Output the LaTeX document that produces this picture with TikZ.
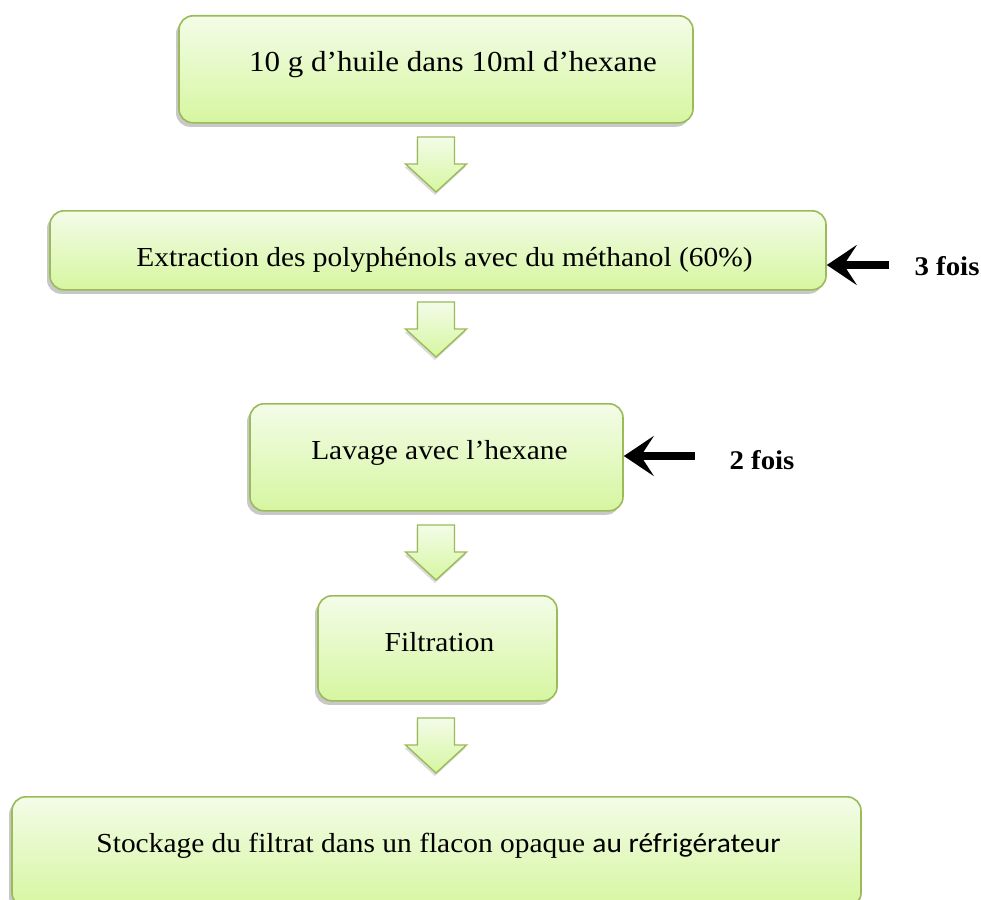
\documentclass[tikz,border=0pt]{standalone}
\usepackage{fontspec}
\setmainfont{Liberation Serif}[FakeStretch=1.07]
\newfontfamily\calibfont{Carlito}[FakeStretch=1.07]
\usetikzlibrary{calc,arrows.meta,positioning,shadows}

\definecolor{cBorder}{RGB}{155,187,89}
\definecolor{cTop}{RGB}{243,252,232}
\definecolor{cBottom}{RGB}{214,246,160}

\tikzset{
  stepbox/.style={draw=cBorder, line width=1.6pt, rounded corners=14pt,
    top color=cTop, bottom color=cBottom, anchor=north, inner sep=0pt,
    drop shadow={shadow xshift=-3pt, shadow yshift=-4pt, opacity=0.3, fill=black!70},
    font=\fontsize{27.5}{32}\selectfont, text height=56pt},
  hollowarr/.style={draw=cBorder, line width=1.4pt, line join=miter,
    top color=cTop, bottom color=cBottom,
    drop shadow={shadow xshift=-1pt, shadow yshift=-3pt, opacity=0.2, fill=black!70}},
  repeatarr/.style={-{Stealth[length=30pt,width=40pt,inset=13pt]}, line width=8pt},
  repeatlbl/.style={font=\bfseries\fontsize{27}{31}\selectfont, inner sep=0pt}
}

\begin{document}
\begin{tikzpicture}[x=1pt,y=-1pt]
\useasboundingbox[fill=white] (0,0) rectangle (981,899);
%boites des etapes
\node[stepbox, minimum width=514pt, minimum height=107pt, text depth=51pt,
  font=\fontsize{29}{33}\selectfont] (nHuile) at (436,15)
  {\hspace*{34pt}10 g d’huile dans 10ml d’hexane};
\node[stepbox, minimum width=776pt, minimum height=79pt, text depth=23pt] (nExtract) at (438,210)
  {\hspace*{13pt}Extraction des polyphénols avec du méthanol (60\%)};
\node[stepbox, minimum width=373pt, minimum height=107pt, text depth=51pt] (nLavage) at (436.5,403)
  {\hspace*{6pt}Lavage avec l’hexane};
\node[stepbox, minimum width=239pt, minimum height=105pt, text depth=49pt] (nFiltr) at (437.5,595)
  {\hspace*{4pt}Filtration};
\node[stepbox, minimum width=849pt, minimum height=110pt, text depth=54pt] (nStock) at (436.5,796)
  {\hspace*{4pt}Stockage du filtrat dans un flacon opaque {\calibfont au réfrigérateur}};

%fleches creuses
\foreach \t in {137,302,525,718}
{
    \draw[hollowarr] ($(436,\t)+(-18.5,0)$) -- ++(37,0) -- ++(0,27) -- ++(12,0)
      -- (436,\t+55) -- ++(-30.5,-28) -- ++(12,0) -- cycle;
};

%repetitions
\node[repeatlbl] (nTrois) at (947,266) {3 fois};
\node[repeatlbl] (nDeux) at (762,460) {2 fois};
\coordinate (cT3Pt) at (889,265);
\coordinate (cT2Pt) at (695,456);
\draw[repeatarr] (cT3Pt) -- (cT3Pt -| nExtract.east);
\draw[repeatarr] (cT2Pt) -- (cT2Pt -| nLavage.east);
\end{tikzpicture}
\end{document}
